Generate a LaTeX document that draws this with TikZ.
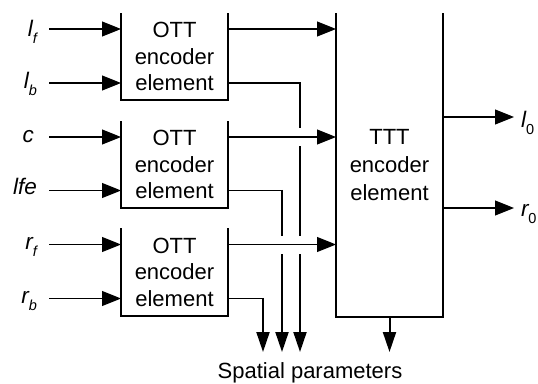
\documentclass[tikz,border=0pt]{standalone}
\usepackage{fontspec}
\setmainfont{Liberation Sans}
\usetikzlibrary{arrows.meta}
\newcommand\lsub[1]{\raisebox{-0.33em}{\fontsize{14.5}{14.5}\selectfont #1}}
\begin{document}
\begin{tikzpicture}[x=1pt,y=-1pt,
  every node/.style={font=\fontsize{22}{26.5}\selectfont, inner sep=0pt, outer sep=0pt},
  blk/.style={minimum width=107pt, align=center},
  wire/.style={line width=1.1pt},
  drop/.style={line width=2pt},
  arr/.style={-{Triangle[length=19pt 0,width=15pt 0]}},
  darr/.style={-{Triangle[length=20pt 0,width=13pt 0]}},
  halo/.style={white,line width=18pt},
  boxedge/.style={line width=1.8pt, line join=miter},
  lab/.style={font=\fontsize{22.5}{22.5}\selectfont\itshape}
]
\useasboundingbox (0,0) rectangle (538,383);

% blocks
\node[blk, minimum height=87pt] (o1) at (174.5,56.5) {OTT\\encoder\\element};
\node[blk, minimum height=87pt] (o2) at (174.5,164.5) {OTT\\encoder\\element};
\node[blk, minimum height=88pt] (o3) at (174.5,272) {OTT\\encoder\\element};
\node[blk, minimum height=304pt, font=\fontsize{22}{28}\selectfont] (t) at (389.5,165) {TTT\\encoder\\element};

% input points
\coordinate (a1) at (49,29);
\coordinate (a2) at (49,83);
\coordinate (a3) at (49,137);
\coordinate (a4) at (49,190.5);
\coordinate (a5) at (49,244.5);
\coordinate (a6) at (49,298.5);

% drop tips
\coordinate (d1) at (300,352);
\coordinate (d2) at (282,352);
\coordinate (d3) at (263,352);

% output tips
\coordinate (e1) at (514,117);
\coordinate (e2) at (514,208);

% labels
\node[lab, anchor=base east] (lf) at (37,36) {l\lsub{f}};
\node[lab, anchor=base east] (lb) at (37,88) {l\lsub{b}};
\node[lab, anchor=base east] (lc) at (34,142) {c};
\node[lab, anchor=base east] (llfe) at (37,194) {lfe};
\node[lab, anchor=base east] (rf) at (37,249) {r\lsub{f}};
\node[lab, anchor=base east] (rb) at (37,303) {r\lsub{b}};
\node[lab, anchor=base west] (l0) at (521,127) {l\lsub{\upshape 0}};
\node[lab, anchor=base west] (r0) at (521,216) {r\lsub{\upshape 0}};
\node[anchor=base] (sp) at (310,378) {Spatial parameters};

% input arrows
\draw[wire,arr] (a1) -- (a1 -| o1.west);
\draw[wire,arr] (a2) -- (a2 -| o1.west);
\draw[wire,arr] (a3) -- (a3 -| o2.west);
\draw[wire,arr] (a4) -- (a4 -| o2.west);
\draw[wire,arr] (a5) -- (a5 -| o3.west);
\draw[wire,arr] (a6) -- (a6 -| o3.west);

% spatial parameter drops
\draw[wire] (a2 -| o1.east) -- (a2 -| d1);
\draw[drop,darr] ([yshift=0.55pt]a2 -| d1) -- (d1);
\draw[wire] (a4 -| o2.east) -- (a4 -| d2);
\draw[drop,darr] ([yshift=0.55pt]a4 -| d2) -- (d2);
\draw[wire] (a6 -| o3.east) -- (a6 -| d3);
\draw[drop,darr] ([yshift=0.55pt]a6 -| d3) -- (d3);
\draw[drop,darr] (t.south) -- (t.south |- d1);

% gaps at crossings
\draw[halo] (a3 -| o2.east) -- (a3 -| t.west);
\draw[halo] (a5 -| o3.east) -- (a5 -| t.west);

% OTT -> TTT
\draw[wire,arr] (a1 -| o1.east) -- (a1 -| t.west);
\draw[wire,arr] (a3 -| o2.east) -- (a3 -| t.west);
\draw[wire,arr] (a5 -| o3.east) -- (a5 -| t.west);

% outputs
\draw[wire,arr] (e1 -| t.east) -- (e1);
\draw[wire,arr] (e2 -| t.east) -- (e2);

% open-top boxes
\foreach \b in {o1,o2,o3,t}
  \draw[boxedge] (\b.north west) -- (\b.south west) -- (\b.south east) -- (\b.north east);
\end{tikzpicture}
\end{document}
